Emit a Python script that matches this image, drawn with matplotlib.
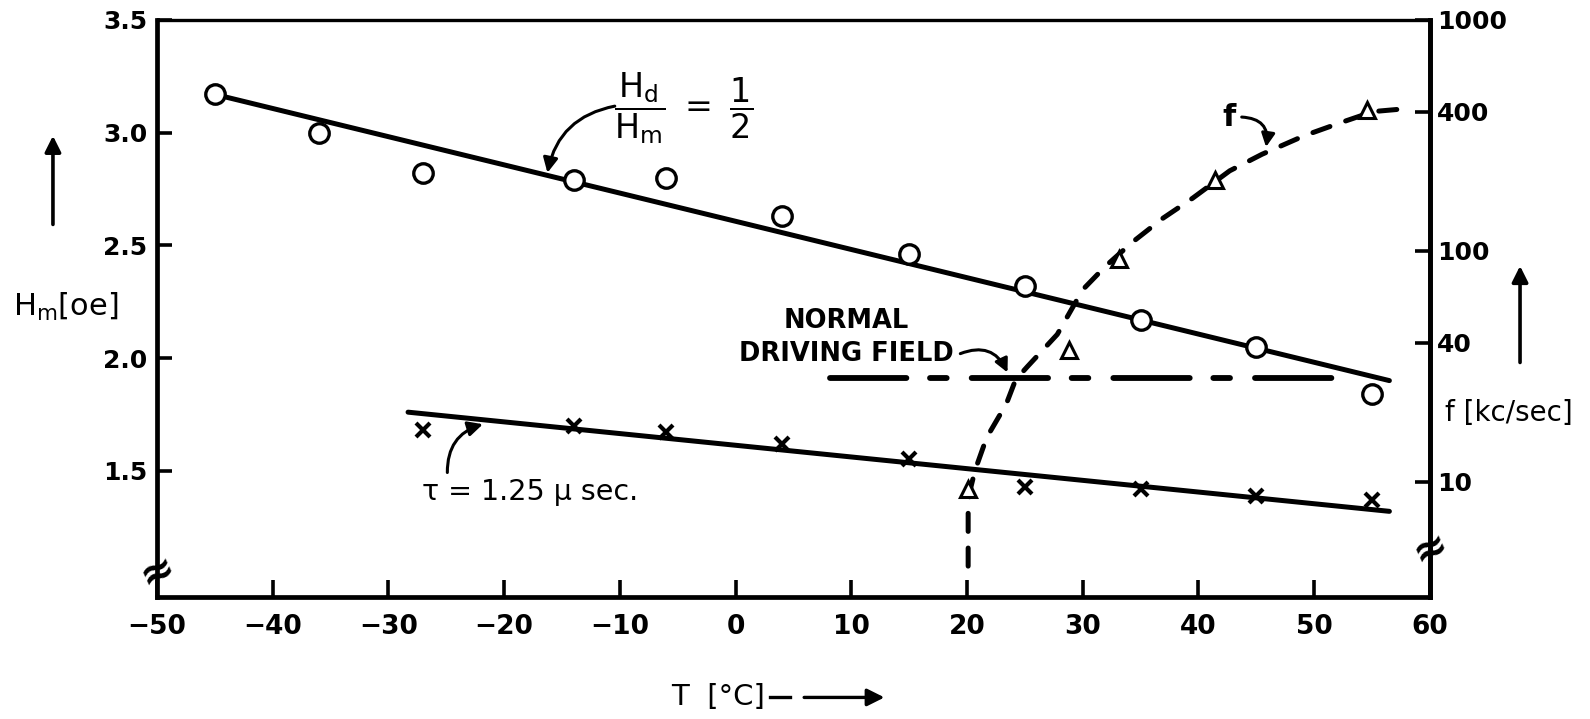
import matplotlib
matplotlib.use('Agg')
import matplotlib.pyplot as plt
from matplotlib.lines import Line2D

# Hm [oe] measured points, circles (Hd/Hm = 1/2)
circle_T = [-45, -36, -27, -14, -6, 4, 15, 25, 35, 45, 55]
circle_H = [3.17, 3.00, 2.82, 2.79, 2.80, 2.63, 2.46, 2.32, 2.17, 2.05, 1.84]
# crosses (tau = 1.25 usec)
cross_T = [-27, -14, -6, 4, 15, 25, 35, 45, 55]
cross_H = [1.68, 1.70, 1.67, 1.62, 1.55, 1.43, 1.42, 1.39, 1.37]
# frequency points, triangles (right axis, kc/sec)
tri_T = [20.1, 28.8, 33.1, 41.4, 54.6]
tri_f = [9.3, 37, 92, 203, 408]

# fitted lines
half_T = [-45, 56.5]
half_H = [3.17, 1.90]
tau_T = [-28.3, 56.5]
tau_H = [1.76, 1.32]
drive_T = [8.2, 53]
drive_H = [1.91, 1.91]
# dashed f curve
f_curve_T = [20.1, 20.1, 20.3, 20.7, 21.7, 23.4, 24.2, 25.2, 27.8, 30.0, 32.0,
             34.3, 36.9, 39.5, 42.7, 45.5, 49.2, 52.5, 55.1, 58.0]
f_curve_f = [4.3, 7.6, 9.3, 11.2, 15.5, 21.7, 27.6, 31.4, 43.4, 67.8, 86,
             109, 138, 169, 222, 262, 316, 362, 401, 413]

x_ticks = [-50, -40, -30, -20, -10, 0, 10, 20, 30, 40, 50, 60]
h_ticks = [1.5, 2.0, 2.5, 3.0, 3.5]
f_ticks = [10, 40, 100, 400, 1000]
f_tick_labels = ['10', '40', '100', '400', '1000']

plt.rcParams['font.family'] = ['DejaVu Sans']
plt.rcParams['mathtext.fontset'] = 'dejavusans'
plt.rcParams['lines.scale_dashes'] = False

fig = plt.figure(figsize=(15.9, 7.19), dpi=100)
ax = fig.add_axes([0.0987, 0.1697, 0.8006, 0.8025])
ax2 = ax.twinx()

ax.set_xlim(-50, 60)
ax.set_ylim(0.94, 3.5)
ax2.set_yscale('log')
ax2.set_ylim(3.16, 1000)

# lines and points on the left axis
ax.plot(half_T, half_H, color='black', lw=3.6, solid_capstyle='round')
ax.plot(tau_T, tau_H, color='black', lw=3.6, solid_capstyle='round')
ax.plot(drive_T, drive_H, color='black', lw=4.2, dash_capstyle='round',
        dashes=(55, 17, 12, 18))
ax.plot(circle_T, circle_H, 'o', ms=14, mfc='white', mec='black', mew=2.4)
ax.plot(cross_T, cross_H, 'x', ms=10, mec='black', mew=3.0)

# frequency curve on the right (log) axis
ax2.plot(f_curve_T, f_curve_f, color='black', lw=3.6, dash_capstyle='round',
         dashes=(13, 12))
ax2.plot(tri_T, tri_f, '^', ms=11, mfc='white', mec='black', mew=2.2)

# axes styling
for s in ['left', 'bottom', 'right']:
    ax.spines[s].set_linewidth(3.4)
ax.spines['top'].set_linewidth(2.4)
for s in ['left', 'bottom', 'top']:
    ax2.spines[s].set_visible(False)
ax2.spines['right'].set_linewidth(3.4)

ax.set_xticks(x_ticks)
ax.set_yticks(h_ticks)
ax.set_xticklabels([str(t).replace('-', '\u2212') for t in x_ticks])
ax.set_yticklabels(['%.1f' % h for h in h_ticks])
ax.tick_params(axis='x', direction='in', length=12, width=2.6, pad=12,
               labelsize=19, top=False)
ax.tick_params(axis='y', direction='in', length=11, width=2.6, pad=7,
               labelsize=18, right=False)
ax2.set_yticks(f_ticks)
ax2.set_yticklabels(f_tick_labels)
ax2.minorticks_off()
ax2.tick_params(axis='y', direction='in', length=11, width=2.6, pad=5,
                labelsize=18)
for lab in ax.get_xticklabels() + ax.get_yticklabels() + ax2.get_yticklabels():
    lab.set_fontweight('bold')

# axis break marks
ax.text(0, 0.045, '\u2248', transform=ax.transAxes, fontsize=30,
        ha='center', va='center', rotation=25, fontweight='bold')
ax.text(1, 0.085, '\u2248', transform=ax.transAxes, fontsize=30,
        ha='center', va='center', rotation=25, fontweight='bold')

# annotations
ax.text(-4.5, 3.11, r'$\dfrac{\mathrm{H_d}}{\mathrm{H_m}}\ =\ \dfrac{1}{2}$',
        fontsize=24, ha='center', va='center')
ax.annotate('', xy=(-16.3, 2.81), xytext=(-10.2, 3.12),
            arrowprops=dict(arrowstyle='-|>', lw=2.2, color='black',
                            mutation_scale=22,
                            connectionstyle='arc3,rad=0.35'))
ax.text(9.6, 2.09, 'NORMAL\nDRIVING FIELD', fontsize=18.5, fontweight='bold',
        ha='center', va='center', linespacing=1.37)
ax.annotate('', xy=(23.6, 1.925), xytext=(19.2, 2.015),
            arrowprops=dict(arrowstyle='-|>', lw=2.2, color='black',
                            mutation_scale=20,
                            connectionstyle='arc3,rad=-0.5'))
ax.text(-27.1, 1.405, '\u03c4 = 1.25 \u03bc sec.', fontsize=20.5,
        ha='left', va='center')
ax.annotate('', xy=(-21.6, 1.71), xytext=(-24.9, 1.48),
            arrowprops=dict(arrowstyle='-|>', lw=2.2, color='black',
                            mutation_scale=22,
                            connectionstyle='arc3,rad=-0.4'))
ax2.text(42.6, 377, 'f', fontsize=22, fontweight='bold', ha='center',
         va='center')
ax2.annotate('', xy=(45.8, 274), xytext=(43.5, 380),
             arrowprops=dict(arrowstyle='-|>', lw=2.2, color='black',
                             mutation_scale=20,
                             connectionstyle='arc3,rad=-0.6'))

# axis labels with arrows
fig.text(0.008, 0.573, r'H$_{\mathregular{m}}$[oe]', fontsize=22,
         ha='left', va='center')
ax.annotate('', xy=(0.0333, 0.815), xytext=(0.0333, 0.684),
            xycoords='figure fraction',
            arrowprops=dict(arrowstyle='-|>', lw=2.6, color='black',
                            mutation_scale=24))
fig.text(0.9088, 0.4256, 'f [kc/sec]', fontsize=20, ha='left', va='center')
ax.annotate('', xy=(0.956, 0.634), xytext=(0.956, 0.492),
            xycoords='figure fraction',
            arrowprops=dict(arrowstyle='-|>', lw=2.6, color='black',
                            mutation_scale=24))
fig.text(0.422, 0.03, 'T  [\u00b0C]', fontsize=21, ha='left', va='center')
fig.add_artist(Line2D([0.484, 0.497], [0.03, 0.03], color='black', lw=2.4,
                      transform=fig.transFigure))
ax.annotate('', xy=(0.558, 0.03), xytext=(0.504, 0.03),
            xycoords='figure fraction',
            arrowprops=dict(arrowstyle='-|>', lw=2.4, color='black',
                            mutation_scale=26))

fig.savefig('out.png', dpi=100)
